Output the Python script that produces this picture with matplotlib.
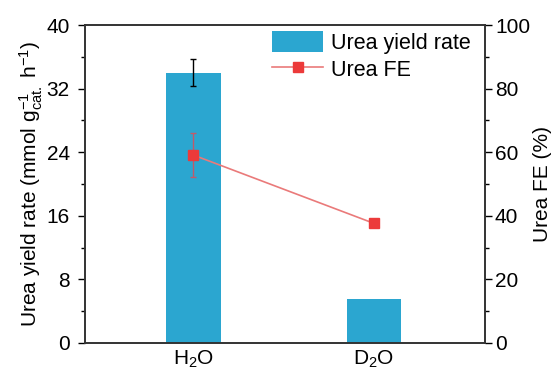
import matplotlib
matplotlib.use("Agg")
import matplotlib.pyplot as plt
import numpy as np
from matplotlib.ticker import MultipleLocator

plt.rcParams['font.family'] = ['Liberation Sans', 'DejaVu Sans']
plt.rcParams['mathtext.fontset'] = 'custom'
plt.rcParams['mathtext.rm'] = 'Liberation Sans'
plt.rcParams['mathtext.it'] = 'Liberation Sans'

categories = ["H$_2$O", "D$_2$O"]
yield_rate = [34.0, 5.5]
yield_err = [1.7, 0.0]
fe = [59.1, 37.6]
fe_err = [6.8, 0.0]

fig = plt.figure(figsize=(5.52, 3.74), dpi=100)
ax = fig.add_axes([0.154, 0.083, 0.725, 0.85])
x = np.arange(len(categories))

bar_color = '#2ba6d0'
ax.bar(x, yield_rate, width=0.3, color=bar_color, label='Urea yield rate', zorder=2)
ax.errorbar(x[:1], yield_rate[:1], yerr=yield_err[:1], fmt='none', ecolor='black',
            elinewidth=1.0, capsize=2.5, capthick=1.0, zorder=3)
ax.set_xlim(-0.6, 1.615)
ax.set_ylim(0, 40)
ax.yaxis.set_major_locator(MultipleLocator(8))
ax.yaxis.set_minor_locator(MultipleLocator(4))
ax.set_xticks(x)
ax.set_xticklabels(categories, fontsize=15)
ax.tick_params(axis='x', length=0, pad=4)
ax.tick_params(axis='y', which='major', length=5, width=1.0, labelsize=15, pad=6)
ax.tick_params(axis='y', which='minor', length=3, width=1.0)
ax.set_ylabel("Urea yield rate (mmol g$_{\\mathrm{cat.}}^{-1}$ h$^{-1}$)", fontsize=15, labelpad=1)

ax2 = ax.twinx()
ax2.plot(x, fe, color='#ea7a7a', lw=1.2, marker='s', markersize=7,
         markerfacecolor='#ec3a3a', markeredgecolor='#ec3a3a', label='Urea FE', zorder=4)
ax2.errorbar(x[:1], fe[:1], yerr=fe_err[:1], fmt='none', ecolor='#c05a6a',
             elinewidth=1.0, capsize=2.5, capthick=1.0, zorder=3)
ax2.set_ylim(0, 100)
ax2.yaxis.set_major_locator(MultipleLocator(20))
ax2.yaxis.set_minor_locator(MultipleLocator(10))
ax2.tick_params(axis='y', which='major', length=5, width=1.0, labelsize=15, pad=2)
ax2.tick_params(axis='y', which='minor', length=3, width=1.0)
ax2.set_ylabel("Urea FE (%)", fontsize=15, labelpad=2)

for a in (ax, ax2):
    for s in a.spines.values():
        s.set_linewidth(1.2)
        s.set_color('#333333')

h1, l1 = ax.get_legend_handles_labels()
h2, l2 = ax2.get_legend_handles_labels()
ax2.legend(h1 + h2, l1 + l2, loc='upper right', bbox_to_anchor=(0.972, 0.99),
           frameon=False, fontsize=15.5,
           handlelength=2.4, handleheight=1.1, borderaxespad=0.0, borderpad=0.15,
           labelspacing=0.2, handletextpad=0.35)

fig.savefig("out.png", dpi=100)
